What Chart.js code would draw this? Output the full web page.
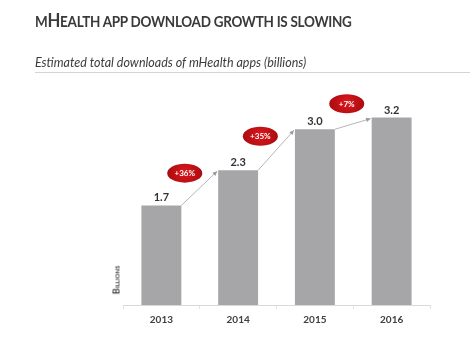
<!DOCTYPE html>
<html>
<head>
    <meta charset="UTF-8">
    <title>mHealth app download growth</title>
    <script src="https://cdn.jsdelivr.net/npm/chart.js@4.4.0/dist/chart.umd.min.js"></script>
    <style>
        body { margin: 0; background: #fff; }
        #wrap { position: relative; width: 470px; height: 350px; overflow: hidden; }
        #chart { position: absolute; left: 0; top: 0; }
        #title {
            position: absolute; left: 35px; top: 9px;
            font-family: Lato, sans-serif; font-weight: bold; font-size: 18px;
            text-transform: uppercase; color: #3a3a3a; white-space: nowrap;
            letter-spacing: -0.3px;
            transform: scaleX(0.93); transform-origin: left center;
        }
        #title .sm { font-size: 14.5px; }
        #subtitle {
            position: absolute; left: 35px; top: 55px; width: 435px;
            font-family: Lato, sans-serif; font-style: italic; font-size: 12.5px;
            color: #3c3c3c; white-space: nowrap; padding-bottom: 2px;
            border-bottom: 1px solid #d4d4d4;
        }
        #unit {
            position: absolute; left: 116px; top: 280px;
            transform: translate(-50%, -50%) rotate(-90deg);
            font-family: Lato, sans-serif; font-weight: bold; font-size: 9px;
            font-variant: small-caps; color: #404040; white-space: nowrap;
        }
    </style>
    <script>
        // データ
        const years = ['2013', '2014', '2015', '2016'];
        const downloads = [1.7, 2.3, 3.0, 3.2];
        const growth = ['+36%', '+35%', '+7%'];
        const yMax = 3.5;
    </script>
</head>
<body>
    <div id="wrap">
        <canvas id="chart" width="470" height="350"></canvas>
        <div id="title"><span class="sm">m</span>H<span class="sm">ealth app download growth is slowing</span></div>
        <div id="subtitle">Estimated total downloads of mHealth apps (billions)</div>
        <div id="unit">Billions</div>
    </div>

    <script>
        // 値ラベル・成長率の吹き出し・矢印を描く
        const labelPlugin = {
            id: 'labels',
            afterDatasetsDraw(chart) {
                const ctx = chart.ctx;
                const bars = chart.getDatasetMeta(0).data;
                ctx.save();

                // 矢印
                for (let i = 0; i < bars.length - 1; i++) {
                    const a = bars[i], b = bars[i + 1];
                    const x1 = a.x + a.width / 2, y1 = a.y;
                    const x2 = b.x - b.width / 2 - 1, y2 = b.y + 1;
                    ctx.strokeStyle = '#b5b5b5';
                    ctx.lineWidth = 1;
                    ctx.beginPath();
                    ctx.moveTo(x1, y1);
                    ctx.lineTo(x2, y2);
                    ctx.stroke();
                    const ang = Math.atan2(y2 - y1, x2 - x1);
                    ctx.fillStyle = '#9a9a9a';
                    ctx.beginPath();
                    ctx.moveTo(x2, y2);
                    ctx.lineTo(x2 - 5 * Math.cos(ang - 0.45), y2 - 5 * Math.sin(ang - 0.45));
                    ctx.lineTo(x2 - 5 * Math.cos(ang + 0.45), y2 - 5 * Math.sin(ang + 0.45));
                    ctx.closePath();
                    ctx.fill();

                    // 吹き出し（矢印の左上に配置）
                    const len = Math.hypot(x2 - x1, y2 - y1);
                    const nx = (y2 - y1) / len, ny = -(x2 - x1) / len;
                    const d = 21;
                    const cx = (x1 + x2) / 2 + nx * d;
                    const cy = (y1 + y2) / 2 + ny * d;
                    const g = ctx.createRadialGradient(cx, cy - 2, 2, cx, cy, 18);
                    g.addColorStop(0, '#d6161c');
                    g.addColorStop(1, '#a80b0f');
                    ctx.fillStyle = g;
                    ctx.beginPath();
                    ctx.ellipse(cx, cy, 17.5, 9.5, 0, 0, Math.PI * 2);
                    ctx.fill();
                    ctx.fillStyle = '#ffffff';
                    ctx.font = 'bold 8px Lato, sans-serif';
                    ctx.textAlign = 'center';
                    ctx.textBaseline = 'middle';
                    ctx.fillText(growth[i], cx, cy + 0.5);
                }

                // 値ラベル
                ctx.fillStyle = '#333333';
                ctx.font = 'bold 11px Lato, sans-serif';
                ctx.textAlign = 'center';
                ctx.textBaseline = 'alphabetic';
                bars.forEach((bar, i) => {
                    ctx.fillText(downloads[i].toFixed(1), bar.x, bar.y - 4);
                });
                ctx.restore();
            }
        };

        new Chart(document.getElementById('chart'), {
            type: 'bar',
            data: {
                labels: years,
                datasets: [{
                    data: downloads,
                    backgroundColor: '#a6a5a7',
                    categoryPercentage: 1,
                    barPercentage: 0.52
                }]
            },
            options: {
                responsive: false,
                animation: false,
                layout: { padding: { left: 123, right: 40, top: 100, bottom: 19 } },
                plugins: {
                    legend: { display: false },
                    tooltip: { enabled: false }
                },
                scales: {
                    y: { display: false, min: 0, max: yMax },
                    x: {
                        border: { display: true, color: '#d9d9d9' },
                        grid: {
                            offset: true,
                            drawOnChartArea: false,
                            drawTicks: true,
                            tickLength: 4,
                            color: '#e4e4e4'
                        },
                        ticks: {
                            padding: 5,
                            color: '#404040',
                            font: { family: 'Lato, sans-serif', size: 10, weight: 'bold' }
                        }
                    }
                }
            },
            plugins: [labelPlugin]
        });
    </script>
</body>
</html>
